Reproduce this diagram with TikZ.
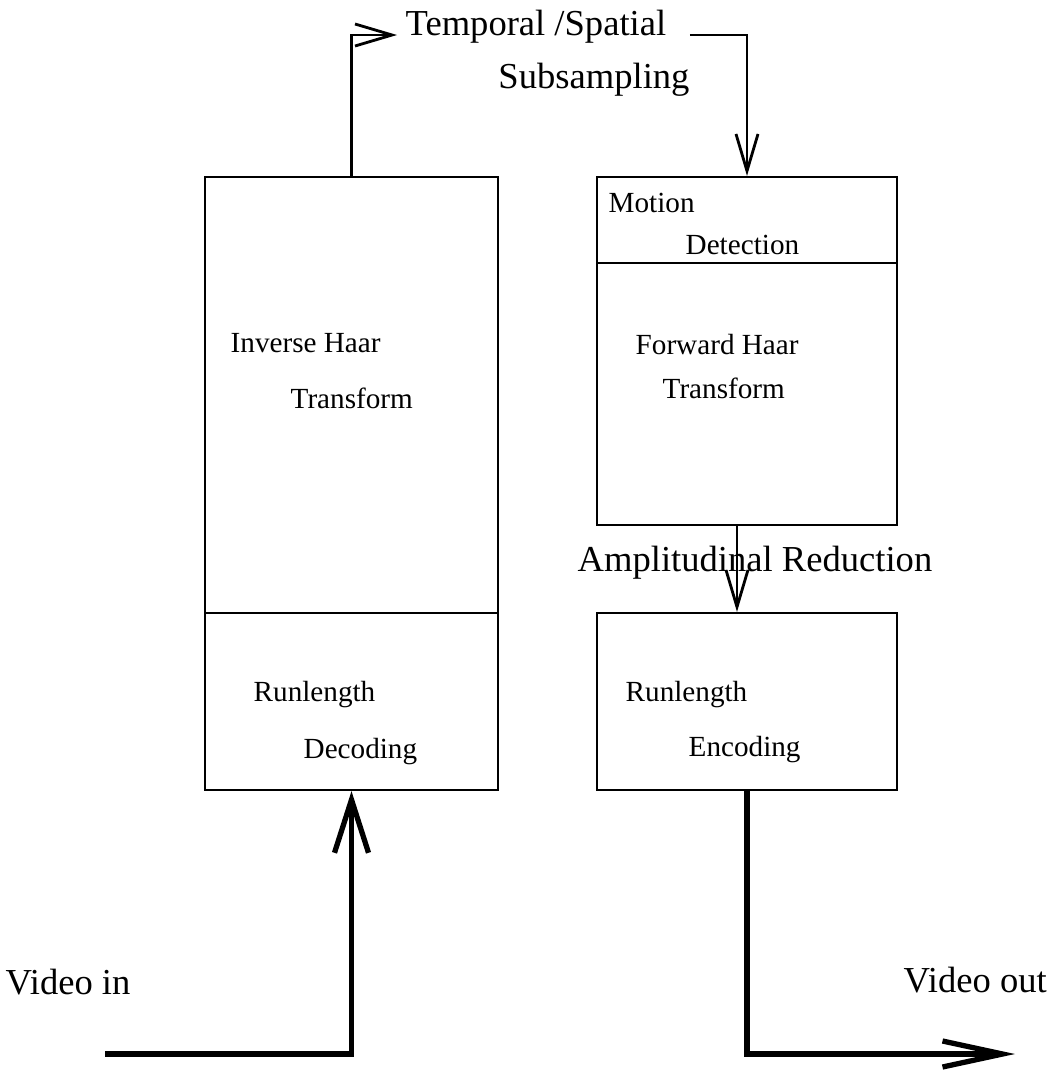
\documentclass[tikz,border=0pt]{standalone}
\usepackage{fontspec}
\setmainfont{Liberation Serif}
\usetikzlibrary{arrows.meta}

\begin{document}
\begin{tikzpicture}[x=0.01cm, y=-0.01cm,
        blk/.style={draw, line width=0.6pt, inner sep=0pt},
        txt/.style={inner sep=0pt, anchor=west, font=\fontsize{8.3}{10}\selectfont},
        bigtxt/.style={inner sep=0pt, font=\fontsize{10.4}{12}\selectfont},
        thin arrow/.style={line width=0.8pt, -{Straight Barb[length=0.37cm, width=0.22cm]}},
        thick arrow/.style={line width=1.5pt, -{Straight Barb[length=0.53cm, width=0.34cm]}},
        flat arrow/.style={line width=1.5pt, -{Straight Barb[length=0.6cm, width=0.26cm]}}]
        \useasboundingbox (0,0) rectangle (1056,1072);

        % decoder side
        \node[blk, minimum width=2.93cm, minimum height=4.36cm] (ihaar) at (351.5,395) {};
        \node[blk, minimum width=2.93cm, minimum height=1.77cm] (rldec) at (351.5,701.5) {};
        % encoder side
        \node[blk, minimum width=3.00cm, minimum height=0.86cm] (motion) at (747,220) {};
        \node[blk, minimum width=3.00cm, minimum height=2.62cm] (fhaar) at (747,394) {};
        \node[blk, minimum width=3.00cm, minimum height=1.77cm] (rlenc) at (747,701.5) {};

        \node[txt] (ihaar1) at (230,343) {Inverse Haar};
        \node[txt] (ihaar2) at (290,398) {Transform};
        \node[txt] (rldec1) at (253,695) {Runlength};
        \node[txt] (rldec2) at (303,752) {Decoding};
        \node[txt] (motion1) at (608,203) {Motion};
        \node[txt] (motion2) at (685,245) {Detection};
        \node[txt] (fhaar1) at (635,345) {Forward Haar};
        \node[txt] (fhaar2) at (662,388) {Transform};
        \node[txt] (rlenc1) at (625,695) {Runlength};
        \node[txt] (rlenc2) at (688,750) {Encoding};

        \node[bigtxt, inner xsep=0.08cm, anchor=base west] (temporal) at (397,35) {Temporal /Spatial};
        \node[bigtxt] (subsamp) at (594,80) {Subsampling};
        \node[bigtxt] (ampred) at (755,563) {Amplitudinal Reduction};
        \node[bigtxt, anchor=west] (vidin) at (5,982) {Video in};
        \node[bigtxt, anchor=west] (vidout) at (903,980) {Video out};

        \coordinate (vin) at (105,1054);
        \coordinate (vout) at (1015,1054);

        \draw[thin arrow] (ihaar.north) |- (temporal.base west);
        \draw[thin arrow] ([xshift=0.15cm]temporal.base east) -| (motion.north);
        \draw[thin arrow] ([xshift=-0.1cm]fhaar.south) -- ([xshift=-0.1cm]rlenc.north);
        \draw[thick arrow] (vin) -| (rldec.south);
        \draw[flat arrow] (rlenc.south) |- (vout);
    \end{tikzpicture}
\end{document}
